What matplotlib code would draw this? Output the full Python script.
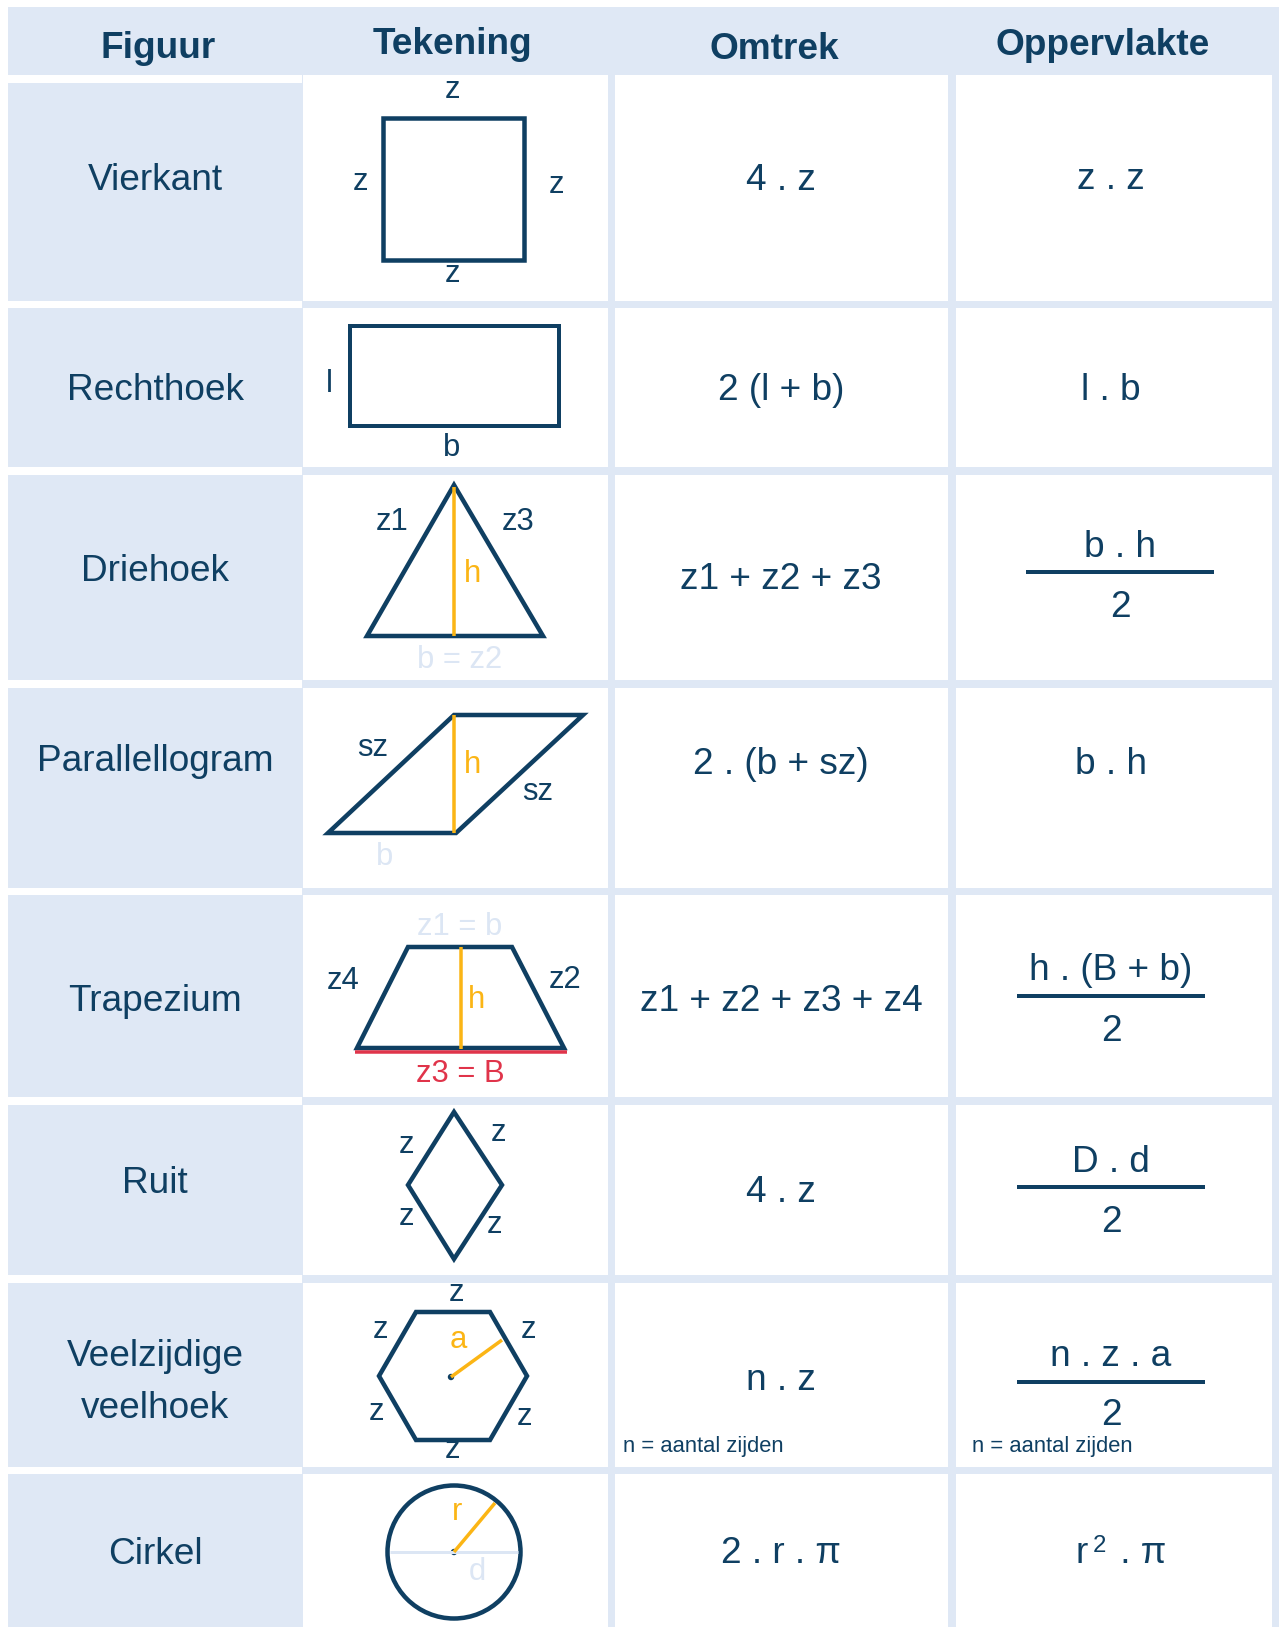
import matplotlib
matplotlib.use('Agg')
import matplotlib.pyplot as plt
from matplotlib.patches import Rectangle, Polygon, Circle

plt.rcParams['font.family'] = ['Liberation Sans', 'DejaVu Sans']

W, H = 1279, 1627
LIGHT = '#dfe8f5'
DARK = '#0f3f62'
ORANGE = '#fbb515'
RED = '#e0344a'
PALE = '#dce6f4'

# tabelinhoud
headers = ['Figuur', 'Tekening', 'Omtrek', 'Oppervlakte']
figuren = ['Vierkant', 'Rechthoek', 'Driehoek', 'Parallellogram', 'Trapezium',
           'Ruit', 'Veelzijdige\nveelhoek', 'Cirkel']
omtrek = ['4 . z', '2 (l + b)', 'z1 + z2 + z3', '2 . (b + sz)', 'z1 + z2 + z3 + z4',
          '4 . z', 'n . z', '2 . r . π']
opp_teller = ['z . z', 'l . b', 'b . h', 'b . h', 'h . (B + b)', 'D . d', 'n . z . a', None]
opp_noemer = [None, None, '2', None, '2', '2', '2', None]
voetnoot = 'n = aantal zijden'

# rasterindeling (pixels)
rows_y = [(75, 301), (308, 467), (475, 680), (688, 888), (895, 1097),
          (1105, 1275), (1283, 1467), (1474, 1627)]
cols_x = [(303, 608), (615, 948), (956, 1272)]

fig = plt.figure(figsize=(W / 100, H / 100), dpi=100)
ax = fig.add_axes([0, 0, 1, 1])
ax.set_xlim(0, W)
ax.set_ylim(H, 0)
ax.axis('off')


def txt(x, y, s, px, color=DARK, ha='center', weight='normal'):
    ax.text(x, y, s, fontsize=px * 0.72, color=color, ha=ha, va='baseline',
            fontweight=weight, linespacing=1.0)


def lijn(xs, ys, color=DARK, px=4.5):
    ax.plot(xs, ys, color=color, lw=px * 0.72, solid_capstyle='butt')


def veelhoek(pts, px=4.5):
    ax.add_patch(Polygon(pts, closed=True, fill=False, edgecolor=DARK,
                         lw=px * 0.72, joinstyle='miter'))


# achtergrond
ax.add_patch(Rectangle((8, 7), W - 8, 68, color=LIGHT, lw=0))
ax.add_patch(Rectangle((302, 75), W - 302, H - 75, color=LIGHT, lw=0))
for y0, y1 in rows_y:
    ax.add_patch(Rectangle((8, max(y0, 83)), 294, y1 - max(y0, 83), color=LIGHT, lw=0))
    for x0, x1 in cols_x:
        ax.add_patch(Rectangle((x0, y0), x1 - x0, y1 - y0, color='white', lw=0))

# koppen
head_pos = [(158, 58), (452, 54), (774, 59), (1103, 55)]
for (x, y), s in zip(head_pos, headers):
    txt(x, y, s, 37, weight='bold')

# kolom figuur
fig_base = [190, 400, 581, 771, 1011, 1193, 1366, 1564]
for y, s in zip(fig_base, figuren):
    if '\n' in s:
        a, b = s.split('\n')
        txt(155, y, a, 37)
        txt(155, y + 52, b, 37)
    else:
        txt(155, y, s, 37)

# kolom omtrek
om_base = [190, 400, 589, 774, 1011, 1202, 1390, 1563]
for y, s in zip(om_base, omtrek):
    txt(781, y, s, 37)
txt(623, 1452, voetnoot, 22, ha='left')
txt(972, 1452, voetnoot, 22, ha='left')

# kolom oppervlakte
opp_pos = [(1111, 189, None, None), (1111, 400, None, None),
           (1120, 557, 572, 617), (1111, 774, None, None),
           (1111, 980, 996, 1041), (1111, 1172, 1187, 1232),
           (1111, 1366, 1382, 1425)]
for (x, yt, yl, yn), t, n in zip(opp_pos, opp_teller, opp_noemer):
    txt(x, yt, t, 37)
    if n is not None:
        lijn([x - 94, x + 94], [yl, yl], px=4)
        txt(x, yn, n, 37)
# r^2 . pi
txt(1076, 1563, 'r', 37, ha='left')
txt(1093, 1552, '2', 24, ha='left')
txt(1110, 1563, ' . π', 37, ha='left')

# tekeningen
# vierkant
veelhoek([(383, 118), (524, 118), (524, 260), (383, 260)])
for x, y in [(452, 98), (360, 190), (556, 193), (452, 282)]:
    txt(x, y, 'z', 31)

# rechthoek
veelhoek([(349.5, 326), (558.5, 326), (558.5, 426), (349.5, 426)], px=4)
txt(329, 392, 'l', 31)
txt(452, 456, 'b', 31)

# driehoek
lijn([454, 454], [487, 636], color=ORANGE, px=3.5)
veelhoek([(454, 485), (543, 636), (367, 636)])
txt(392, 530, 'z1', 31)
txt(518, 530, 'z3', 31)
txt(473, 582, 'h', 31, color=ORANGE)
txt(460, 668, 'b = z2', 31, color=PALE)

# parallellogram
lijn([454, 454], [715, 833], color=ORANGE, px=3.5)
veelhoek([(454, 715), (583, 715), (456, 833), (328, 833)])
txt(373, 756, 'sz', 31)
txt(538, 800, 'sz', 31)
txt(472, 773, 'h', 31, color=ORANGE)
txt(385, 865, 'b', 31, color=PALE)

# trapezium
lijn([460.5, 460.5], [947, 1049], color=ORANGE, px=3.5)
veelhoek([(408, 947), (512, 947), (564, 1048), (357, 1048)])
lijn([355, 567], [1051.5, 1051.5], color=RED, px=3.5)
txt(460, 935, 'z1 = b', 31, color=PALE)
txt(343, 989, 'z4', 31)
txt(565, 988, 'z2', 31)
txt(476, 1008, 'h', 31, color=ORANGE)
txt(460, 1082, 'z3 = B', 31, color=RED)

# ruit
veelhoek([(454, 1112), (502, 1185), (454, 1259), (408, 1185)])
for x, y in [(406, 1153), (498, 1141), (407, 1225), (494, 1233)]:
    txt(x, y, 'z', 31)

# zeshoek
veelhoek([(416, 1312), (490, 1312), (527, 1376), (490, 1440), (416, 1440), (379, 1376)])
lijn([451, 502], [1377, 1340], color=ORANGE, px=3.5)
ax.add_patch(Circle((451, 1377), 3.2, color=DARK, lw=0))
txt(458, 1348, 'a', 31, color=ORANGE)
for x, y in [(457, 1301), (381, 1338), (529, 1338), (376, 1420), (524, 1425), (453, 1458)]:
    txt(x, y, 'z', 31)

# cirkel
lijn([390, 518], [1552, 1552], color=PALE, px=3)
lijn([454, 495], [1552, 1503], color=ORANGE, px=3.5)
ax.add_patch(Circle((454, 1552), 66.5, fill=False, edgecolor=DARK, lw=4.5 * 0.72))
ax.add_patch(Circle((454, 1552), 3.2, color=DARK, lw=0))
txt(457, 1520, 'r', 31, color=ORANGE)
txt(477, 1580, 'd', 31, color=PALE)

fig.savefig('out.png', dpi=100)
